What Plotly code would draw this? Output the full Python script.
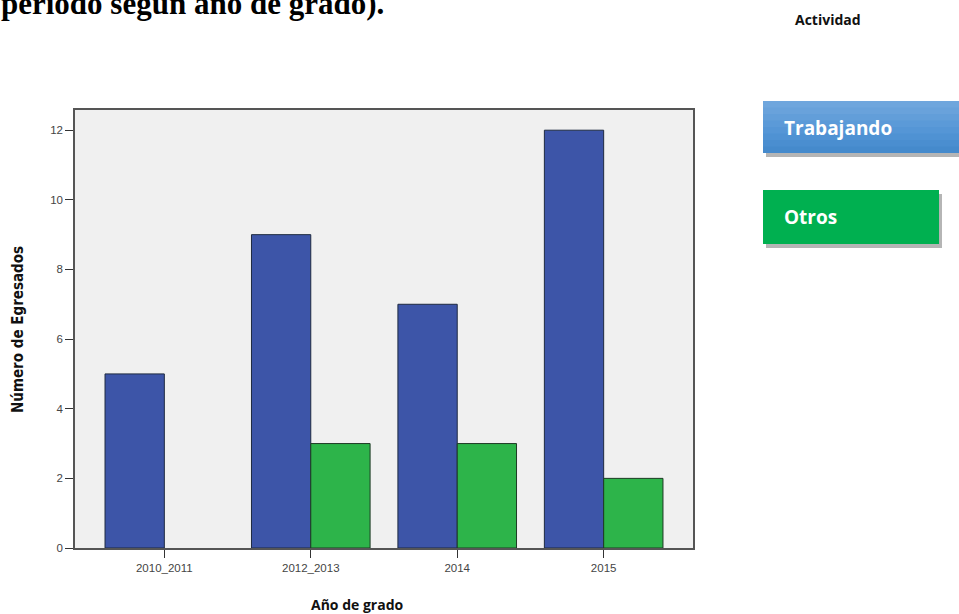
import plotly.graph_objects as go

categories = ["2010_2011", "2012_2013", "2014", "2015"]
trabajando = [5, 9, 7, 12]
otros = [0, 3, 3, 2]
y_ticks = [0, 2, 4, 6, 8, 10, 12]

W, H = 959, 614
L, R, T, B = 75, 959 - 693, 110, 614 - 548
PW, PH = W - L - R, H - T - B

def fx(p):
    return (p - L) / PW
def fy(p):
    return (H - B - p) / PH

fig = go.Figure()
fig.add_trace(go.Bar(x=categories, y=trabajando, name="Trabajando",
                     marker=dict(color="#3d55a8", line=dict(color="#1e2a40", width=1))))
fig.add_trace(go.Bar(x=categories, y=otros, name="Otros",
                     marker=dict(color="#2db44a",
                                 line=dict(color="#1e3a25", width=[0 if v == 0 else 1 for v in otros]))))

shapes = []
def box(x0, y0, x1, y1, colors):
    shapes.append(dict(type="rect", xref="paper", yref="paper",
                       x0=fx(x0 + 3), x1=fx(x1 + 3), y0=fy(y1 + 4), y1=fy(y0 + 4),
                       fillcolor="rgba(90,90,90,0.45)", line=dict(width=0), layer="above"))
    n = len(colors)
    h = (y1 - y0) / n
    for i, c in enumerate(colors):
        ya = y0 + i * h
        yb = min(y0 + (i + 1) * h + 0.5, y1)
        shapes.append(dict(type="rect", xref="paper", yref="paper",
                           x0=fx(x0), x1=fx(x1), y0=fy(yb), y1=fy(ya),
                           fillcolor=c, line=dict(width=0), layer="above"))

blue_grad = ["#6fa6dd", "#69a2db", "#629ed9", "#5b9ad8", "#5596d6", "#4f92d3", "#4a8ed0", "#458acc"]
box(763, 101, 965, 153, blue_grad)
box(763, 190, 939, 244, ["#00b050"])

fig.update_layout(
    width=W, height=H,
    margin=dict(l=L, r=R, t=T, b=B, pad=0),
    paper_bgcolor="white",
    plot_bgcolor="#f0f0f0",
    barmode="group",
    bargap=0.19,
    bargroupgap=0,
    showlegend=False,
    font=dict(family="Liberation Sans", color="#333333"),
    shapes=shapes,
    xaxis=dict(
        range=[-0.61, 3.61],
        showline=True, linecolor="#555555", linewidth=1.5, mirror=True,
        ticks="outside", ticklen=8, tickcolor="#333333", tickwidth=1,
        tickfont=dict(size=11.5, color="#444444", family="Liberation Sans"),
        showgrid=False,
    ),
    yaxis=dict(
        range=[0, 12.58],
        tickvals=y_ticks,
        showline=True, linecolor="#555555", linewidth=1.5, mirror=True,
        ticks="outside", ticklen=8, tickcolor="#333333", tickwidth=1,
        tickfont=dict(size=11.5, color="#444444", family="Liberation Sans"),
        showgrid=False, zeroline=False,
    ),
    annotations=[
        dict(text="<b>período según año de grado).</b>", xref="paper", yref="paper",
             x=fx(386), y=fy(3), xanchor="right", yanchor="middle", showarrow=False,
             font=dict(size=31, family="Liberation Serif", color="#000000")),
        dict(text="<b>Número de Egresados</b>", xref="paper", yref="paper",
             x=fx(18), y=fy(330), xanchor="center", yanchor="middle", showarrow=False,
             textangle=-90,
             font=dict(size=15, family="DejaVu Sans Condensed", color="#111111")),
        dict(text="<b>Actividad</b>", xref="paper", yref="paper",
             x=fx(828), y=fy(19), xanchor="center", yanchor="middle", showarrow=False,
             font=dict(size=14, family="Open Sans", color="#111111")),
        dict(text="<b>Trabajando</b>", xref="paper", yref="paper",
             x=fx(782), y=fy(128), xanchor="left", yanchor="middle", showarrow=False,
             font=dict(size=19, family="Open Sans", color="#ffffff")),
        dict(text="<b>Otros</b>", xref="paper", yref="paper",
             x=fx(782), y=fy(217), xanchor="left", yanchor="middle", showarrow=False,
             font=dict(size=19, family="Open Sans", color="#ffffff")),
        dict(text="<b>Año de grado</b>", xref="paper", yref="paper",
             x=fx(357), y=fy(604), xanchor="center", yanchor="middle", showarrow=False,
             font=dict(size=14, family="Open Sans", color="#111111")),
    ],
)

fig.write_html("out.html",
               config={"displayModeBar": False},
               post_script="document.body.style.margin='0';document.body.style.overflow='hidden';")
